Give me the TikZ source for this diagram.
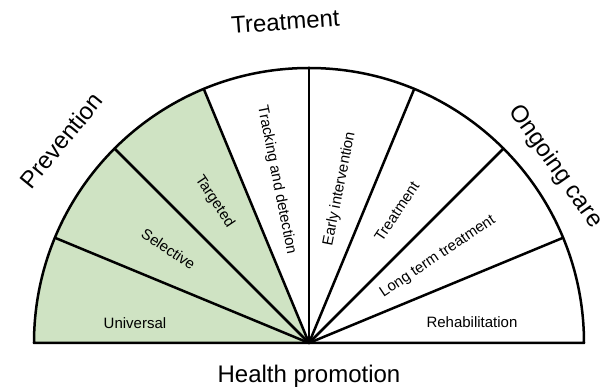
\documentclass[tikz,border=0pt]{standalone}
\usepackage{fontspec}
\setmainfont{Liberation Sans}
\usepackage{xcolor}
\usepackage{tikz}
\usetikzlibrary{positioning}

\definecolor{prevgreen}{RGB}{207,227,195}

\begin{document}
\begin{tikzpicture}[x=1pt, y=1pt,
    spoke/.style={line width=2.5pt, line cap=round},
    rim/.style={line width=2.5pt, line join=round},
    inlabel/.style={font=\fontsize{15}{18}\selectfont, inner sep=1pt},
    biglabel/.style={font=\fontsize{24}{29}\selectfont, inner sep=1pt}]

    \useasboundingbox (-309,-47) rectangle (296,343);

    \coordinate (c) at (0,0);
    \coordinate (r0) at (0:275);
    \coordinate (r1) at (22.5:275);
    \coordinate (r2) at (45:275);
    \coordinate (r3) at (67.5:275);
    \coordinate (r4) at (90:275);
    \coordinate (r5) at (112.5:275);
    \coordinate (r6) at (135:275);
    \coordinate (r7) at (157.5:275);
    \coordinate (r8) at (180:275);

    % prevention part
    \fill[prevgreen] (c) -- (r8) arc (180:112.5:275) -- cycle;

    % spokes
    \foreach \i in {1,...,7}
        \draw[spoke] (c) -- (r\i);

    % outline
    \draw[rim] (r8) -- (r0) arc (0:180:275) -- cycle;

    % sector labels
    \node[inlabel] (universal) at (-174,20) {Universal};
    \node[inlabel, rotate=-33.75] (selective) at (146.25:169) {Selective};
    \node[inlabel, rotate=-56.25] (targeted) at (123.75:170) {Targeted};
    \node[inlabel, rotate=-78.75] (tracking) at (101.25:166) {Tracking and detection};
    \node[inlabel, rotate=78.75] (early) at (78.75:157) {Early intervention};
    \node[inlabel, rotate=56.25] (treat) at (56.25:158) {Treatment};
    \node[inlabel, rotate=33.75] (longterm) at (33.75:155) {Long term treatment};
    \node[inlabel] (rehab) at (163,21) {Rehabilitation};

    % outer labels
    \node[biglabel, rotate=50.7] (prevention) at (140.7:320) {Prevention};
    \node[biglabel, rotate=4.2] (treatment) at (94.2:322) {Treatment};
    \node[biglabel, rotate=-54.9] (ongoing) at (35.6:303) {Ongoing care};
    \node[biglabel, anchor=base] (health) at (0,-40) {Health promotion};
\end{tikzpicture}
\end{document}
